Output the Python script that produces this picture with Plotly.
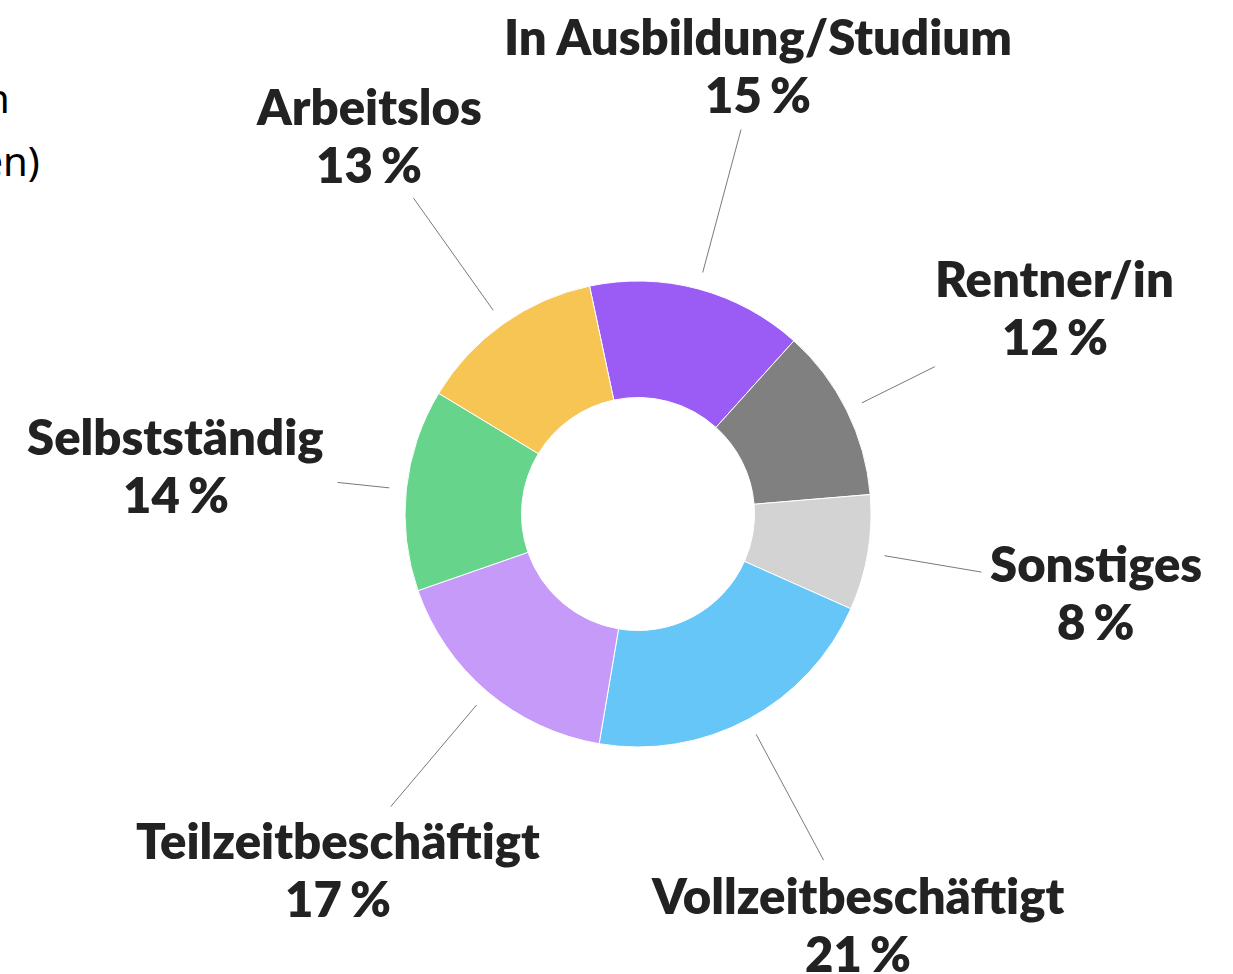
import math
import plotly.graph_objects as go

# ---- data ----
categories = ["In Ausbildung/Studium", "Rentner/in", "Sonstiges", "Vollzeitbeschäftigt",
              "Teilzeitbeschäftigt", "Selbstständig", "Arbeitslos"]
shares = [15, 12, 8, 21, 17, 14, 13]
colors = ["#9b5cf6", "#808080", "#d3d3d3", "#66c6f8", "#c69af8", "#66d48a", "#f6c553"]
title_lines = ["Erwerbsstatus der Befragten", "(alle Befragten)"]

# ---- layout constants (window pixels) ----
W, H = 1233, 974
CX, CY = 638, 514
R = 233
ROT = -12
LABEL_R = 465
LINE_GAP = 29
FS = 49

def px2paper(x, y):
    return x / W, 1 - y / H

fig = go.Figure()
x0, y0 = px2paper(CX - R, CY + R)
x1, y1 = px2paper(CX + R, CY - R)
fig.add_trace(go.Pie(
    labels=categories, values=shares, sort=False, direction="clockwise",
    rotation=ROT, hole=0.5, textinfo="none", hoverinfo="label+percent",
    marker=dict(colors=colors, line=dict(color="white", width=1)),
    domain=dict(x=[x0, x1], y=[y0, y1]), showlegend=False,
))

total = sum(shares)
acc = 0
annotations = []
shapes = []
lab_font = dict(family="Lato", size=FS, color="#222222", weight=800)
for cat, v in zip(categories, shares):
    mid = ROT + (acc + v / 2) / total * 360
    acc += v
    th = math.radians(mid)
    s, c = math.sin(th), math.cos(th)
    lx, ly = CX + LABEL_R * s, CY - LABEL_R * c
    for txt, dy in ((cat, -LINE_GAP), (f"{v}\u2006%", LINE_GAP)):
        ax, ay = px2paper(lx, ly + dy)
        annotations.append(dict(
            x=ax, y=ay, xref="paper", yref="paper", xanchor="center", yanchor="middle",
            text=txt, showarrow=False, align="center", font=lab_font,
        ))
    hw = len(cat) * 0.26 * 45
    hh = 55
    t = min(hw / max(abs(s), 1e-6), hh / max(abs(c), 1e-6))
    r_end = LABEL_R - t - 10
    r_start = R + 17
    sx, sy = px2paper(CX + r_start * s, CY - r_start * c)
    ex, ey = px2paper(CX + r_end * s, CY - r_end * c)
    shapes.append(dict(type="line", xref="paper", yref="paper", x0=sx, y0=sy, x1=ex, y1=ey,
                       line=dict(color="#7a7a7a", width=1)))

# cropped title at the left edge
tx1, ty1 = px2paper(12, 98)
tx2, ty2 = px2paper(42, 160)
annotations.append(dict(x=tx1, y=ty1, xref="paper", yref="paper", xanchor="right", yanchor="middle",
                        text=title_lines[0], showarrow=False,
                        font=dict(family="Noto Sans", size=40, color="#000000")))
annotations.append(dict(x=tx2, y=ty2, xref="paper", yref="paper", xanchor="right", yanchor="middle",
                        text=title_lines[1], showarrow=False,
                        font=dict(family="Noto Sans", size=40, color="#000000")))

fig.update_layout(
    width=W, height=H, margin=dict(l=0, r=0, t=0, b=0),
    paper_bgcolor="white", plot_bgcolor="white",
    annotations=annotations, shapes=shapes,
)
fig.write_html("out.html", config={"displayModeBar": False},
               post_script="document.body.style.margin='0';document.body.style.overflow='hidden';")
